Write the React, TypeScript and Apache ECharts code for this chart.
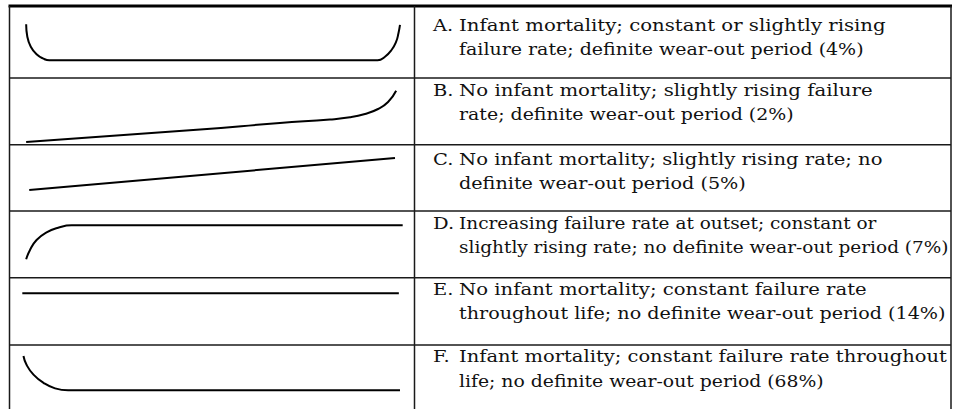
import React, { useEffect, useRef } from "react";
import * as echarts from "echarts";

// Row labels and descriptions (two text lines per row)
const rowLabels = ["A.", "B.", "C.", "D.", "E.", "F."];
const descLine1 = [
  "Infant mortality; constant or slightly rising",
  "No infant mortality; slightly rising failure",
  "No infant mortality; slightly rising rate; no",
  "Increasing failure rate at outset; constant or",
  "No infant mortality; constant failure rate",
  "Infant mortality; constant failure rate throughout",
];
const descLine2 = [
  "failure rate; definite wear-out period (4%)",
  "rate; definite wear-out period (2%)",
  "definite wear-out period (5%)",
  "slightly rising rate; no definite wear-out period (7%)",
  "throughout life; no definite wear-out period (14%)",
  "life; no definite wear-out period (68%)",
];

// Failure-rate curves: [age, failure rate] (arbitrary units 0-100)
const curveA = [
  [1.6, 86.7], [1.9, 64.2], [2.8, 46.0], [4.3, 32.2], [6.1, 24.2], [7.6, 21.3],
  [92.9, 21.3], [94.8, 27.8], [96.5, 40.0], [97.7, 55.1], [98.3, 70.4], [98.7, 85.5],
];
const curveB = [
  [1.6, 1.8], [46.8, 24.5], [67.5, 36.4], [80.5, 42.7], [85.7, 46.7], [89.6, 52.7],
  [93.0, 61.8], [95.6, 74.5], [97.7, 95.1],
];
const curveC = [
  [2.4, 36.4], [97.4, 94.5],
];
const curveD = [
  [1.6, 30.4], [2.6, 47.3], [4.3, 65.5], [6.9, 79.5], [9.9, 87.8], [13.4, 92.2],
  [99.4, 92.2],
];
const curveE = [
  [0.6, 90.4], [98.4, 90.4],
];
const curveF = [
  [0.9, 98.2], [1.7, 81.8], [3.5, 63.6], [6.1, 48.5], [9.1, 38.2], [12.5, 34.5],
  [98.7, 34.5],
];
const curves = [curveA, curveB, curveC, curveD, curveE, curveF];

export default function App() {
  const ref = useRef<HTMLDivElement>(null);

  useEffect(() => {
    if (!ref.current) return;
    const chart = echarts.init(ref.current, null, { renderer: "svg" });

    const H = 409;
    const rowTops = [7, 78, 145, 211, 278, 345];
    const dividerYs = [78, 144.7, 211, 277.7, 345];
    const leftX = 9.5;
    const midX = 414.5;
    const rightX = 951;
    const lineColor = "#1a1a1a";
    const fontFamily = "'DejaVu Serif', 'Liberation Serif', serif";
    const fontSize = 16;
    const labelStretch = 1.22;
    const line1Base = [29.5, 94.5, 162.7, 227, 293, 360.5];
    const lineGap = 24.5;
    const textX = 459;
    const line1End = [886, 873, 883, 877, 867, 947];
    const line2End = [864, 794, 746, 949, 946, 824];

    const canvas = document.createElement("canvas");
    const ctx = canvas.getContext("2d");
    const fontStr = `${fontSize}px ${fontFamily}`;
    const measure = (t: string) => {
      if (!ctx) return t.length * fontSize * 0.55;
      ctx.font = fontStr;
      return ctx.measureText(t).width;
    };

    const grids: any[] = [];
    const xAxes: any[] = [];
    const yAxes: any[] = [];
    const series: any[] = [];
    curves.forEach((c, i) => {
      grids.push({ left: 20, width: 385, top: rowTops[i] + 10, height: 55 });
      xAxes.push({ type: "value", gridIndex: i, min: 0, max: 100, show: false });
      yAxes.push({ type: "value", gridIndex: i, min: 0, max: 100, show: false });
      series.push({
        type: "line",
        xAxisIndex: i,
        yAxisIndex: i,
        data: c,
        smooth: 0.5,
        symbol: "none",
        clip: false,
        lineStyle: { color: "#000", width: 2 },
      });
    });

    const graphics: any[] = [];
    // table frame
    graphics.push({
      type: "line",
      shape: { x1: leftX - 1, y1: 6, x2: rightX + 1, y2: 6 },
      style: { stroke: "#000", lineWidth: 3 },
    });
    [leftX, midX, rightX].forEach((x) =>
      graphics.push({
        type: "line",
        shape: { x1: x, y1: 6, x2: x, y2: H },
        style: { stroke: lineColor, lineWidth: 1.5 },
      })
    );
    dividerYs.forEach((y) =>
      graphics.push({
        type: "line",
        shape: { x1: leftX, y1: y, x2: rightX, y2: y },
        style: { stroke: lineColor, lineWidth: 1.5 },
      })
    );
    // texts
    const mk = (x: number, y: number, t: string, sx: number) => ({
      type: "text",
      x,
      y,
      scaleX: sx,
      style: {
        text: t,
        fill: "#111",
        font: fontStr,
        verticalAlign: "bottom",
      },
    });
    rowLabels.forEach((lab, i) => {
      const b1 = line1Base[i];
      const b2 = b1 + lineGap;
      const s1 = (line1End[i] - textX) / measure(descLine1[i]);
      const s2 = (line2End[i] - textX) / measure(descLine2[i]);
      graphics.push(mk(433, b1 + 4, lab, labelStretch));
      graphics.push(mk(textX, b1 + 4, descLine1[i], s1));
      graphics.push(mk(textX, b2 + 4, descLine2[i], s2));
    });

    chart.setOption({
      animation: false,
      backgroundColor: "#fff",
      grid: grids,
      xAxis: xAxes,
      yAxis: yAxes,
      series,
      graphic: { elements: graphics },
    });
    return () => chart.dispose();
  }, []);

  return (
    <div
      ref={ref}
      style={{ position: "fixed", left: 0, top: 0, width: 953, height: 409 }}
    />
  );
}
